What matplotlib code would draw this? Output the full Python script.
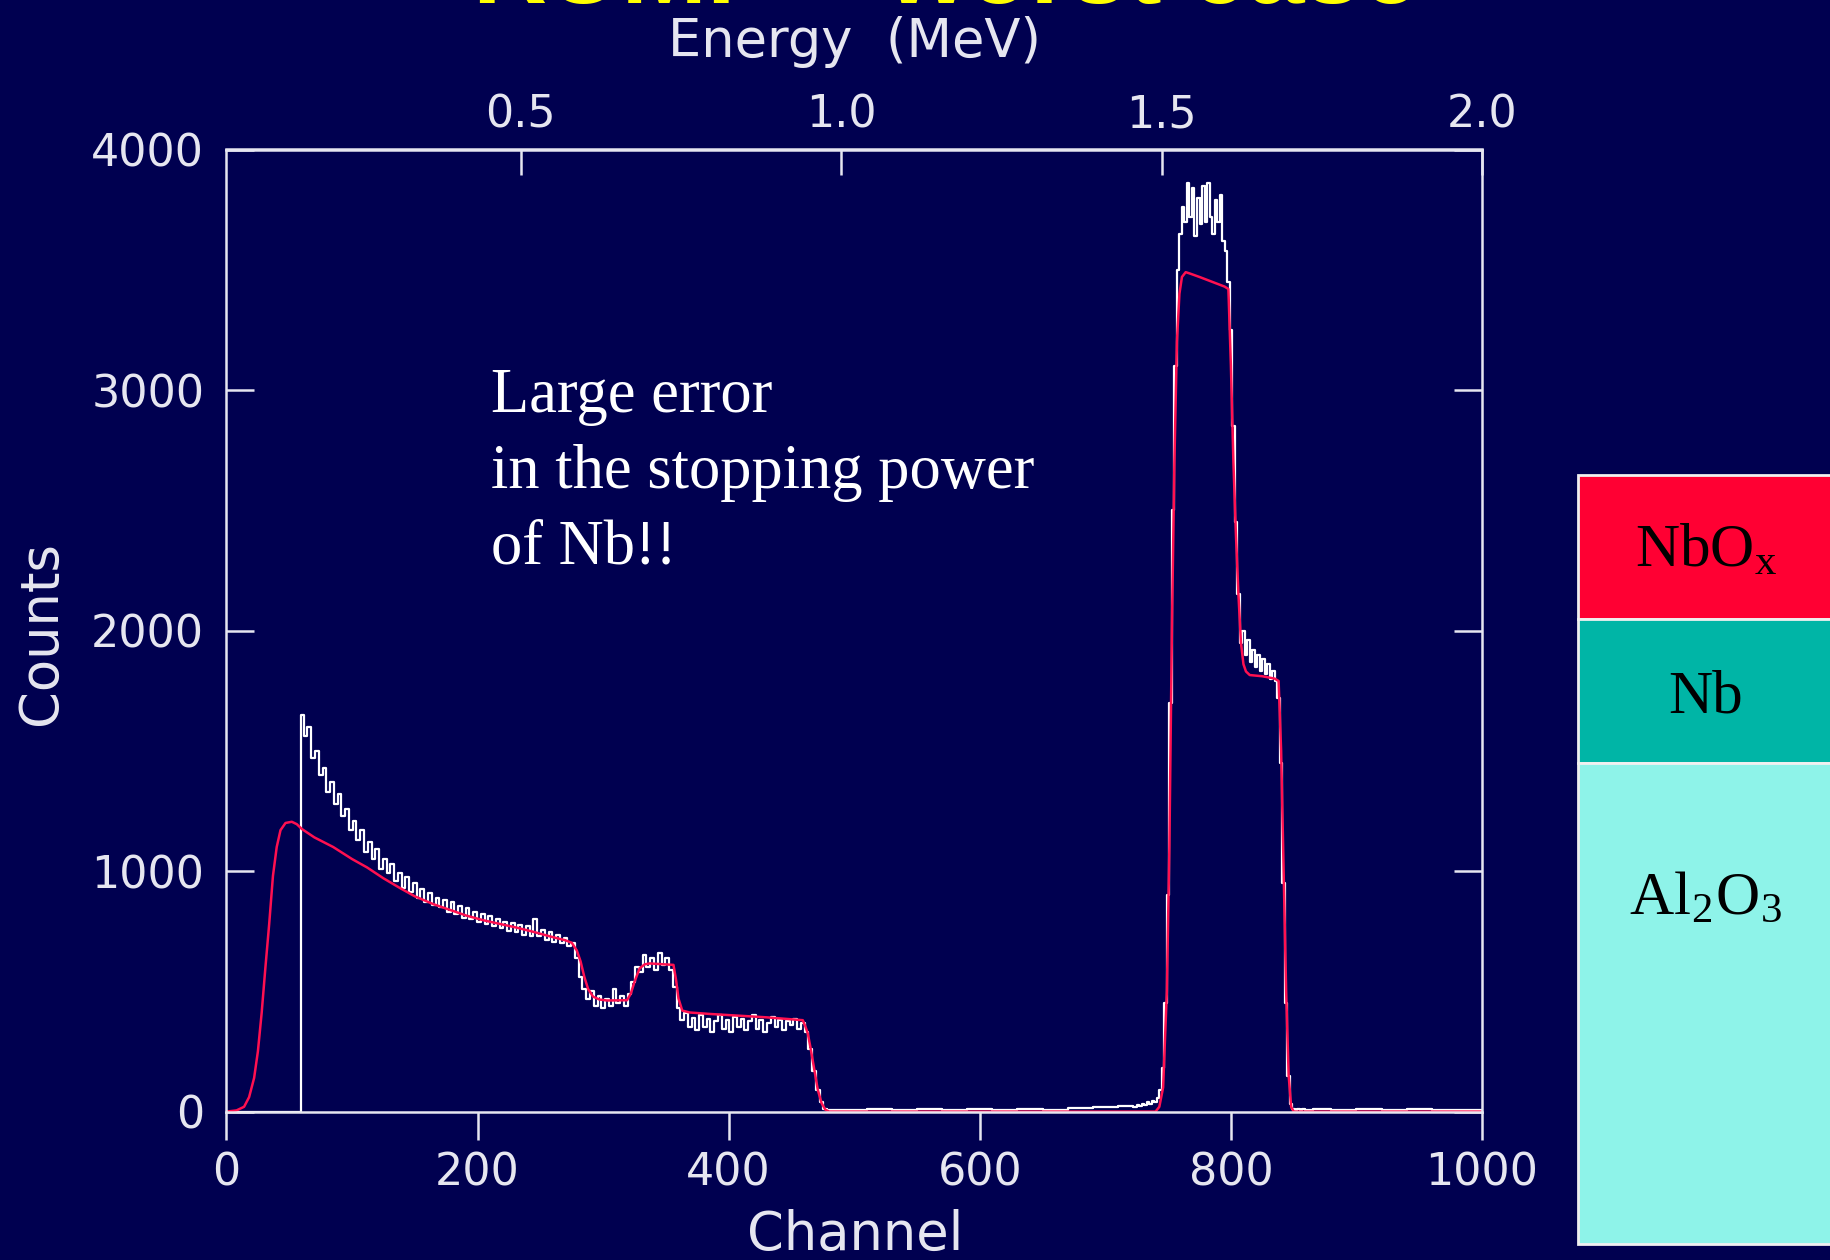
import numpy as np
import matplotlib
matplotlib.use('Agg')
import matplotlib.pyplot as plt

plt.rcParams['font.family'] = ['DejaVu Sans']
plt.rcParams['mathtext.fontset'] = 'stix'

# measured RBS spectrum (counts per channel)
pre_ch = [0, 58]
pre_counts = [0, 0]

low_ch = np.arange(60, 480, 3)
low_counts = [1650, 1560, 1600, 1470, 1500, 1400, 1430, 1330, 1370, 1280,
              1320, 1230, 1260, 1170, 1210, 1130, 1170, 1080, 1120, 1050,
              1090, 1010, 1050, 990, 1030, 960, 990, 930, 975, 915,
              950, 890, 925, 870, 910, 860, 890, 850, 880, 830,
              870, 820, 855, 805, 845, 800, 830, 790, 820, 780,
              815, 770, 800, 765, 790, 750, 785, 745, 775, 735,
              770, 730, 800, 730, 755, 715, 745, 705, 735, 700,
              720, 690, 700, 640, 560, 510, 470, 500, 440, 480,
              430, 470, 440, 510, 450, 480, 440, 490, 540, 600,
              580, 650, 600, 640, 590, 660, 610, 640, 590, 520,
              430, 380, 410, 350, 390, 340, 400, 350, 385, 330,
              375, 400, 345, 380, 330, 395, 350, 385, 340, 375,
              400, 345, 380, 330, 370, 395, 350, 380, 340, 375,
              360, 385, 345, 370, 330, 260, 170, 90, 40, 12]

gap_ch = np.arange(480, 721, 20)
gap_counts = [8, 5, 10, 6, 12, 7, 9, 5, 11, 8, 14, 18, 25]

peak_ch = np.arange(724, 862, 2)
peak_counts = [20, 28, 22, 30, 26, 38, 32, 45, 40, 55,
               90, 180, 450, 900, 1700, 2500, 3100, 3500, 3650, 3760,
               3700, 3860, 3720, 3840, 3640, 3800, 3690, 3850, 3700, 3860,
               3720, 3650, 3790, 3700, 3810, 3620, 3580, 3450, 3250, 2850,
               2450, 2150, 1950, 2000, 1900, 1960, 1870, 1920, 1850, 1900,
               1830, 1880, 1820, 1860, 1800, 1830, 1790, 1720, 1450, 950,
               450, 150, 30, 10, 8, 12, 6, 10, 7]

tail_ch = [870, 890, 910, 930, 950, 970, 990, 1000]
tail_counts = [9, 5, 11, 7, 10, 6, 8, 5]

# RUMP simulation
sim_ch = [0, 8, 14, 18, 22, 25, 28, 31, 34, 37,
          40, 43, 47, 52, 56, 60, 70, 85, 100, 112,
          125, 138, 150, 165, 180, 191, 205, 218, 231, 244,
          258, 270, 275, 279, 282, 285, 288, 292, 297, 303,
          319, 322, 325, 329, 333, 337, 356, 358, 360, 363,
          369, 385, 404, 430, 459, 461, 463, 465, 467, 469,
          471, 474, 477, 480, 740, 743, 746, 749, 751, 753,
          755, 757, 759, 761, 764, 767, 775, 785, 795, 798,
          800, 802, 804, 806, 808, 810, 812, 815, 825, 835,
          838, 840, 842, 844, 846, 848, 850, 1000]
sim_counts = [0, 5, 20, 60, 140, 250, 410, 600, 780, 980,
              1100, 1170, 1200, 1205, 1195, 1175, 1140, 1100, 1050, 1015,
              970, 930, 895, 862, 835, 815, 795, 780, 765, 748,
              728, 712, 702, 670, 625, 560, 510, 478, 466, 462,
              463, 490, 540, 595, 612, 616, 610, 550, 470, 420,
              412, 406, 400, 392, 380, 355, 325, 270, 210, 150,
              90, 35, 8, 0, 0, 20, 100, 500, 1100, 2000,
              2700, 3200, 3400, 3470, 3490, 3485, 3470, 3450, 3430, 3420,
              3100, 2700, 2400, 2150, 1950, 1860, 1830, 1815, 1810, 1800,
              1790, 1500, 1000, 500, 150, 20, 0, 0]

# energy calibration (MeV) for the top axis
e_offset = 0.0408
e_gain = 0.0019593
energy_ticks = [0.5, 1.0, 1.5, 2.0]

layers = ['NbO$_\\mathregular{x}$', 'Nb', 'Al$_\\mathregular{2}$O$_\\mathregular{3}$']
layer_heights = [1.0, 1.0, 3.34]
layer_colors = ['#FF0033', '#00B5A6', '#8EF3E9']

note_lines = ['Large error', 'in the stopping power', 'of Nb!!']
title = 'RUMP \u2013 worst case'

bg = '#000050'
fg = '#E6E6F0'
red = '#FF1050'

meas_ch = np.concatenate([pre_ch, low_ch, gap_ch, peak_ch, tail_ch])
meas_counts = np.concatenate([pre_counts, low_counts, gap_counts, peak_counts, tail_counts])

W, H = 1831, 1260
fig = plt.figure(figsize=(W / 100, H / 100), dpi=100, facecolor=bg)
ax = fig.add_axes([226.5 / W, 1 - 1111.6 / H, 1255.5 / W, 962.1 / H], facecolor=bg)

ax.plot(meas_ch, meas_counts, drawstyle='steps-mid', color='white', lw=1.6)
ax.plot(sim_ch, sim_counts, color=red, lw=1.8)

ax.set_xlim(0, 1000)
ax.set_ylim(0, 4000)
ax.set_xticks([0, 200, 400, 600, 800, 1000])
ax.set_yticks([0, 1000, 2000, 3000, 4000])
for s in ax.spines.values():
    s.set_color(fg)
    s.set_linewidth(1.8)
ax.tick_params(axis='y', direction='in', length=20, width=1.8, color=fg,
               left=True, right=True, labelcolor=fg, labelsize=32, pad=16)
ax.tick_params(axis='x', direction='out', length=20, width=1.8, color=fg,
               top=False, bottom=True, labelcolor=fg, labelsize=32, pad=9)

top = ax.secondary_xaxis('top', functions=(lambda c: e_offset + e_gain * c,
                                           lambda e: (e - e_offset) / e_gain))
top.set_xticks(energy_ticks)
top.set_xticklabels(['%.1f' % e for e in energy_ticks])
top.tick_params(direction='in', length=19, width=1.8, color=fg,
                labelcolor=fg, labelsize=32, pad=9)
top.spines['top'].set_color(fg)
top.spines['top'].set_linewidth(1.8)

fig.text(855 / W, 1 - 1250 / H, 'Channel', color=fg, fontsize=38,
         ha='center', va='baseline')
fig.text(855 / W, 1 - 57 / H, 'Energy  (MeV)', color=fg, fontsize=38,
         ha='center', va='baseline')
fig.text(41 / W, 1 - 633 / H, 'Counts', color=fg, fontsize=38,
         ha='center', va='center', rotation=90)

for i, line in enumerate(note_lines):
    fig.text(491 / W, 1 - (411.7 + 76 * i) / H, line, color='white',
             fontsize=45, family='Liberation Serif', ha='left', va='baseline')

fig.text(473 / W, 1 - 3 / H, title, color='#FFFF00', fontsize=74,
         family='Liberation Sans', weight='bold', ha='left', va='baseline')

# layer stack of the sample
lax = fig.add_axes([1578 / W, 1 - 1244 / H, 256 / W, 769 / H])
lax.set_xlim(0, 1)
lax.set_ylim(sum(layer_heights), 0)
lax.axis('off')
tops = np.concatenate([[0], np.cumsum(layer_heights)[:-1]])
lax.bar([0.5] * 3, layer_heights, bottom=tops, width=1.0, color=layer_colors,
        edgecolor='#F0F0F0', linewidth=2, clip_on=False)
for name, y in zip(layers, [0.64, 1.65, 3.05]):
    lax.text(0.5, y, name, color='black', fontsize=44, family='Liberation Serif',
             ha='center', va='baseline')

fig.savefig('out.png', dpi=100, facecolor=bg)
